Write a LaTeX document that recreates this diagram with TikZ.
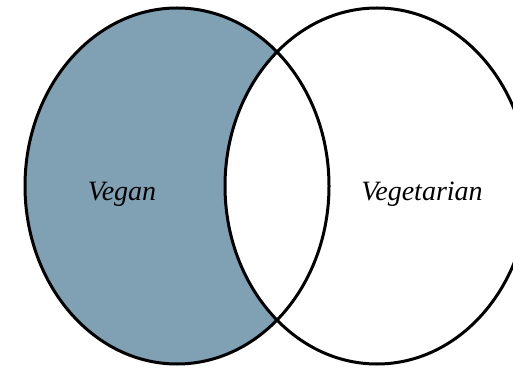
\documentclass[tikz,border=0pt]{standalone}
\usepackage{fontspec}
\setmainfont{Liberation Serif}
\usetikzlibrary{shapes.geometric}
\definecolor{veganblue}{RGB}{128,161,180}
\tikzset{
  set/.style={ellipse, draw, line width=3pt, minimum width=304pt, minimum height=356pt, inner sep=0pt},
  setlabel/.style={font=\itshape\fontsize{28}{32}\selectfont, anchor=base, inner sep=0pt},
  shade fill/.style={fill=veganblue}
}

\begin{document}
\begin{tikzpicture}[x=1pt, y=1pt]
\clip (0,0) rectangle (513,369);
\fill[white] (0,0) rectangle (513,369);
% fills first, outlines on top
\fill[shade fill] (177,183) ellipse [x radius=152, y radius=178];
\fill[white] (377,183) ellipse [x radius=152, y radius=178];
\node[set] (vegan) at (177,183) {};
\node[set] (vegetarian) at (377,183) {};
\node[setlabel] (veganlabel) at (122,168) {Vegan};
\node[setlabel] (vegetarianlabel) at (422,168) {Vegetarian};
\end{tikzpicture}
\end{document}
